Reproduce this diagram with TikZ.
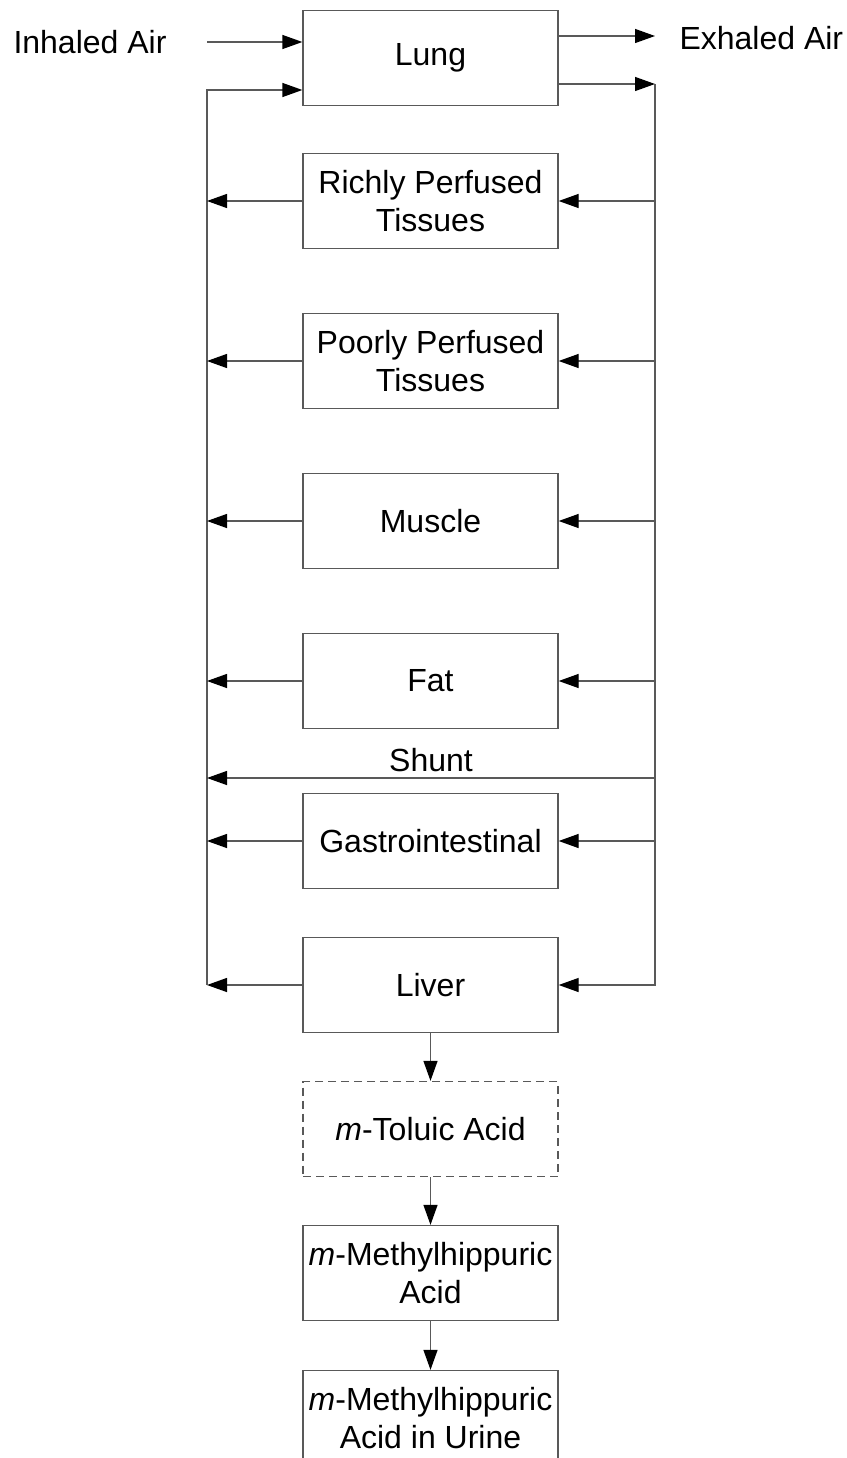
\documentclass[tikz,border=0pt]{standalone}
\usepackage{fontspec}
\setmainfont{Liberation Sans}
\usetikzlibrary{arrows.meta}
\tikzset{>={Triangle[length=20pt,width=14pt,color=black]}}
\tikzset{organ/.style={draw=black!65, line width=1.3pt, minimum width=255pt, minimum height=95pt, inner sep=0pt, align=center},
  flow/.style={->, draw=black!65, line width=1.3pt}}

\begin{document}
\begin{tikzpicture}[x=1pt,y=-1pt,font=\fontsize{32}{38}\selectfont]
    \useasboundingbox (0,0) rectangle (846,1458);
    \clip (0,0) rectangle (846,1458);
    % compartments
    \node[organ] (lung) at (430.5,58) {Lung};
    \node[organ] (rich) at (430.5,201) {Richly Perfused\\Tissues};
    \node[organ] (poor) at (430.5,361) {Poorly Perfused\\Tissues};
    \node[organ] (muscle) at (430.5,521) {Muscle};
    \node[organ] (fat) at (430.5,681) {Fat};
    \node[organ] (gut) at (430.5,841) {Gastrointestinal};
    \node[organ] (liver) at (430.5,985) {Liver};
    \node[organ, dash pattern=on 8pt off 5pt] (toluic) at (430.5,1129) {\textit{m}-Toluic Acid};
    \node[organ] (mha) at (430.5,1273) {\textit{m}-Methylhippuric\\Acid};
    \node[organ] (urine) at (430.5,1418) {\textit{m}-Methylhippuric\\Acid in Urine};
    % air
    \node (inhaled) at (90,42) {Inhaled Air};
    \node[anchor=west] (exhaled) at (676,38) {Exhaled Air};
    \coordinate (inair) at (207,42);
    \coordinate (exair) at (655,36);
    \draw[flow] (inair) -- (inair -| lung.west);
    \draw[flow] (exair -| lung.east) -- (exair);
    % blood
    \coordinate (artTop) at (655,84);
    \coordinate (artBot) at (655,985);
    \coordinate (venTop) at (207,90);
    \coordinate (venBot) at (207,985);
    \draw[flow] (artTop -| lung.east) -- (artTop);
    \draw[flow] (artTop) -- (artBot) -- (liver.east);
    \draw[flow] (liver.west) -- (venBot);
    \draw[flow] (venBot) -- (venTop) -- (venTop -| lung.west);
    \foreach \org in {rich,poor,muscle,fat,gut} {
        \draw[flow] (\org.west) -- (\org.west -| venTop);
        \draw[flow] (\org.east -| artTop) -- (\org.east);
    }
    \coordinate (shunt) at (655,778);
    \draw[flow] (shunt) -- (shunt -| venTop) node[midway,above,inner sep=6pt] (shuntlab) {Shunt};
    % metabolism
    \draw[flow] (liver) -- (toluic);
    \draw[flow] (toluic) -- (mha);
    \draw[flow] (mha) -- (urine);
\end{tikzpicture}
\end{document}
